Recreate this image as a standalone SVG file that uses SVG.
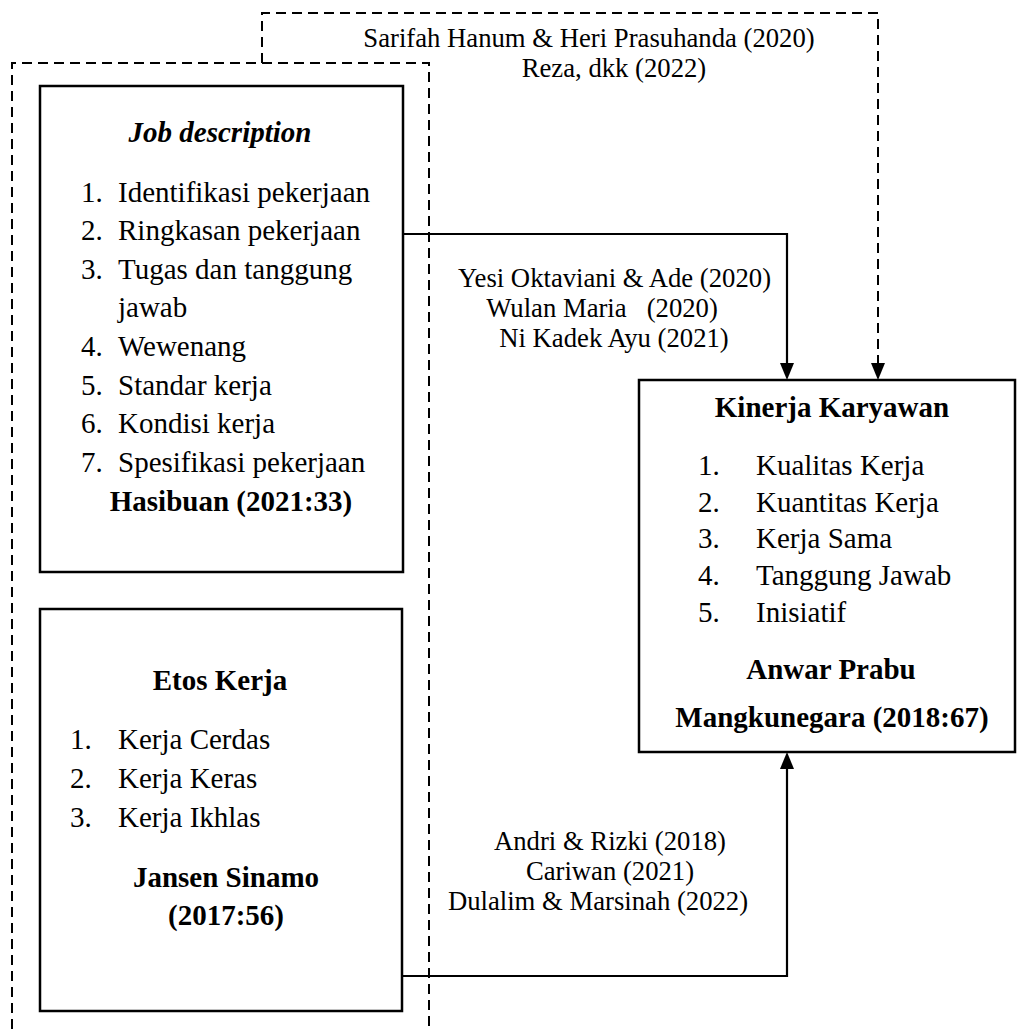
<svg xmlns="http://www.w3.org/2000/svg" width="1017" height="1029" viewBox="0 0 1017 1029">
<style>
.t{font-family:'Liberation Serif',serif;font-size:29px}
.l{font-family:'Liberation Serif',serif;font-size:26.7px}
.b{font-weight:bold}
.c{text-anchor:middle}
.box{fill:#fff;stroke:#000;stroke-width:2.5}
.sol{fill:none;stroke:#000;stroke-width:2.2}
.dash{fill:none;stroke:#000;stroke-width:2;stroke-dasharray:10 6}
</style>
<rect width="1017" height="1029" fill="#fff"/>
<g id="connectors">
<path class="dash" d="M12,1029 V63 H429 V1029"/>
<path class="dash" d="M262,63 V13 H878 V364"/>
<path d="M871,363 L885,363 L878,380 Z" fill="#000"/>
<path class="sol" d="M403,234 H787 V364"/>
<path d="M780,363 L794,363 L787,380 Z" fill="#000"/>
<path class="sol" d="M402,976 H787 V768"/>
<path d="M780,769 L794,769 L787,752 Z" fill="#000"/>
</g>
<g id="label-top">
<text class="l c" x="589" y="47">Sarifah Hanum &amp; Heri Prasuhanda (2020)</text>
<text class="l c" x="614" y="77">Reza, dkk (2022)</text>
</g>
<g id="label-mid">
<text class="l c" x="614.5" y="287">Yesi Oktaviani &amp; Ade (2020)</text>
<text class="l c" x="602" y="317" xml:space="preserve">Wulan Maria   (2020)</text>
<text class="l c" x="614" y="347">Ni Kadek Ayu (2021)</text>
</g>
<g id="label-bottom">
<text class="l c" x="610" y="850">Andri &amp; Rizki (2018)</text>
<text class="l c" x="610" y="880">Cariwan (2021)</text>
<text class="l c" x="598" y="910">Dulalim &amp; Marsinah (2022)</text>
</g>
<g id="node-job">
<rect class="box" x="40" y="86" width="363" height="486"/>
<text class="t b c" x="220" y="142" font-style="italic">Job description</text>
<text class="t" x="81" y="202">1.</text><text class="t" x="118" y="202">Identifikasi pekerjaan</text>
<text class="t" x="81" y="240">2.</text><text class="t" x="118" y="240">Ringkasan pekerjaan</text>
<text class="t" x="81" y="279">3.</text><text class="t" x="118" y="279">Tugas dan tanggung</text>
<text class="t" x="118" y="317">jawab</text>
<text class="t" x="81" y="356">4.</text><text class="t" x="118" y="356">Wewenang</text>
<text class="t" x="81" y="395">5.</text><text class="t" x="118" y="395">Standar kerja</text>
<text class="t" x="81" y="433">6.</text><text class="t" x="118" y="433">Kondisi kerja</text>
<text class="t" x="81" y="472">7.</text><text class="t" x="118" y="472">Spesifikasi pekerjaan</text>
<text class="t b c" x="231" y="511">Hasibuan (2021:33)</text>
</g>
<g id="node-etos">
<rect class="box" x="40" y="609" width="362" height="402"/>
<text class="t b c" x="220" y="690">Etos Kerja</text>
<text class="t" x="70" y="749">1.</text><text class="t" x="118" y="749">Kerja Cerdas</text>
<text class="t" x="70" y="788">2.</text><text class="t" x="118" y="788">Kerja Keras</text>
<text class="t" x="70" y="827">3.</text><text class="t" x="118" y="827">Kerja Ikhlas</text>
<text class="t b c" x="226" y="887">Jansen Sinamo</text>
<text class="t b c" x="226" y="925">(2017:56)</text>
</g>
<g id="node-kinerja">
<rect class="box" x="639" y="380" width="376" height="372"/>
<text class="t b c" x="832" y="417">Kinerja Karyawan</text>
<text class="t" x="698" y="475">1.</text><text class="t" x="756" y="475">Kualitas Kerja</text>
<text class="t" x="698" y="512">2.</text><text class="t" x="756" y="512">Kuantitas Kerja</text>
<text class="t" x="698" y="548">3.</text><text class="t" x="756" y="548">Kerja Sama</text>
<text class="t" x="698" y="585">4.</text><text class="t" x="756" y="585">Tanggung Jawab</text>
<text class="t" x="698" y="622">5.</text><text class="t" x="756" y="622">Inisiatif</text>
<text class="t b c" x="831" y="679">Anwar Prabu</text>
<text class="t b c" x="832" y="727">Mangkunegara (2018:67)</text>
</g>
</svg>
